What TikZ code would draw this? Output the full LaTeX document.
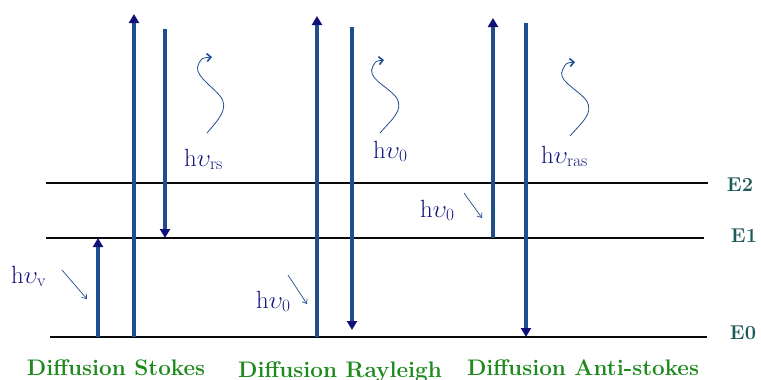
\documentclass[tikz,border=0pt]{standalone}
\usepackage{amsmath}
\usetikzlibrary{arrows.meta}
\definecolor{levelink}{HTML}{0A0A0A}
\definecolor{transblue}{HTML}{1F4E8C}
\definecolor{tipnavy}{HTML}{10107A}
\definecolor{photonink}{HTML}{15157F}
\definecolor{levelteal}{HTML}{1F5A5A}
\definecolor{kindgreen}{HTML}{1E8A1E}

\begin{document}
\begin{tikzpicture}[x=1pt, y=-1pt,
  level/.style={levelink, line width=2.2pt},
  trans/.style={transblue, line width=3.2pt,
    -{Triangle[length=9pt, width=10pt, color=tipnavy]}},
  pointer/.style={transblue, line width=0.7pt, -{Straight Barb[length=4pt, width=6pt]}},
  wave/.style={transblue, line width=0.8pt, -{Straight Barb[length=4pt, width=8pt, line width=1.6pt]}},
  photon/.style={text=photonink, font=\fontsize{25}{28}\selectfont, inner sep=0pt, anchor=base west},
  levelname/.style={text=levelteal, font=\bfseries\fontsize{20}{24}\selectfont, inner sep=0pt},
  kind/.style={text=kindgreen, font=\bfseries\fontsize{22.5}{26}\selectfont, inner sep=0pt, anchor=base}]
  \useasboundingbox (0,0) rectangle (761,380);
  % energy levels
  \foreach \lev/\y/\xa/\xb/\lx/\ly in {E2/183/46/708/740/185, E1/238/46/704/744/236, E0/337/50/707/743/333}{%
    \draw[level] (\xa,\y) -- (\xb,\y);
    \node[levelname] (\lev) at (\lx,\ly) {\lev};}
  % transitions
  \foreach \x/\ya/\yb in {98/337/238, 134/337/14, 165/29/238, 317/337/16,
                          352/27/330, 493/238/18, 526/23/337}{%
    \draw[trans] (\x,\ya) -- (\x,\yb);}
  % photon labels
  \node[photon] (hv) at (11,283) {$\mathrm{h}\upsilon_{\mathrm{v}}$};
  \node[photon] (hrs) at (184,166) {$\mathrm{h}\upsilon_{\mathrm{rs}}$};
  \node[photon] (hray) at (373,158) {$\mathrm{h}\upsilon_{0}$};
  \node[photon] (hras) at (541,163) {$\mathrm{h}\upsilon_{\mathrm{ras}}$};
  \node[photon] (hin) at (256,308) {$\mathrm{h}\upsilon_{0}$};
  \node[photon] (hanti) at (420,217) {$\mathrm{h}\upsilon_{0}$};
  % incoming photons
  \draw[pointer] (62,270) -- (87,299);
  \draw[pointer] (288,275) -- (307,304);
  \draw[pointer] (464,193) -- (482,218);
  % scattered photons
  \draw[wave] (207,133) .. controls (218,120) and (230,108) .. (220,96)
    .. controls (210,84) and (192,74) .. (199,63) .. controls (202,58) .. (212,57);
  \draw[wave] (380,133) .. controls (391,120) and (405,110) .. (396,97)
    .. controls (386,85) and (366,78) .. (373,66) .. controls (376,61) .. (384,60);
  \draw[wave] (570,136) .. controls (581,123) and (595,113) .. (586,100)
    .. controls (576,88) and (556,80) .. (563,69) .. controls (566,63) .. (575,62);
  % kinds of scattering
  \node[kind] (stokes) at (116,375) {Diffusion Stokes};
  \node[kind] (rayleigh) at (340,377) {Diffusion Rayleigh};
  \node[kind] (antistokes) at (583,375) {Diffusion Anti-stokes};
\end{tikzpicture}
\end{document}
